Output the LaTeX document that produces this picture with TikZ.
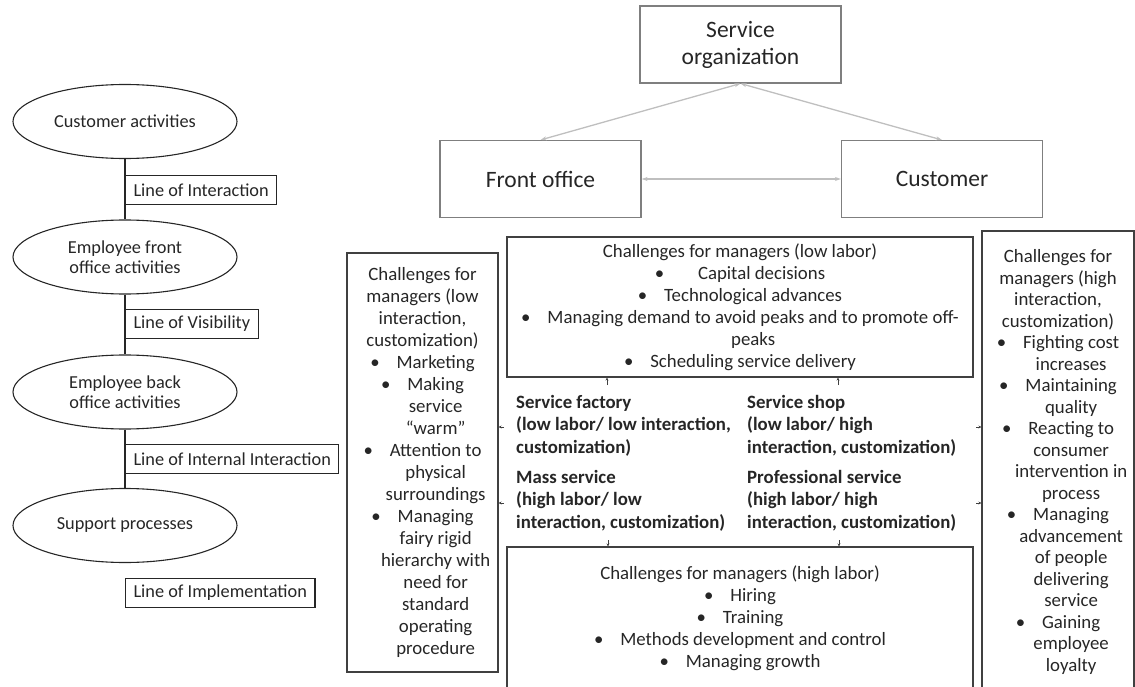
\documentclass[tikz,border=0pt]{standalone}
\usepackage{fontspec}
\setmainfont{Carlito}
\usetikzlibrary{arrows.meta, positioning, shapes.geometric}
\definecolor{c1}{HTML}{262626}
\definecolor{c2}{HTML}{404040}
\definecolor{c3}{HTML}{7F7F7F}
\definecolor{c4}{HTML}{BFBFBF}
\newcommand{\bul}{\textbullet\hspace{0.9em}}
\newcommand{\hang}{\hphantom{\textbullet\hspace{0.9em}}}

\begin{document}
\begin{tikzpicture}[x=1pt, y=-1pt,
    every node/.style={text=c1},
    oval/.style={ellipse, draw=c1, line width=1.1pt, minimum width=224pt,
                 minimum height=74pt, align=center, inner sep=0pt,
                 font=\fontsize{18.3}{20.5}\selectfont},
    tagbox/.style={rectangle, draw=c1, line width=1.1pt, minimum height=29pt,
                   inner xsep=8pt, anchor=north west,
                   font=\fontsize{18.3}{20.5}\selectfont},
    partbox/.style={rectangle, draw=c3, line width=1.1pt, minimum width=201pt,
                    minimum height=77pt, align=center,
                    font=\fontsize{23.5}{27}\selectfont},
    both/.style={{Stealth[length=6pt, width=4pt]}-{Stealth[length=6pt, width=4pt]},
                 draw=c4, line width=1.3pt},
    chal/.style={rectangle, draw=c2, line width=1.1pt, align=center, inner sep=0pt,
                 font=\fontsize{18.8}{22}\selectfont},
    quad/.style={anchor=west, align=left, inner sep=0pt,
                 font=\fontsize{18.8}{22.5}\selectfont\bfseries},
    tip/.style={-{Stealth[length=3pt, width=3pt]}, draw=c2, line width=0.7pt},
    link/.style={draw=c1, line width=1.1pt},
]
\clip (0,0) rectangle (1135,687);

% ================================================================ left: blueprint lines
\node[oval] (ca) at (125,121.5) {Customer activities};
\node[oval] (ef) at (125,257) {Employee front\\office activities};
\node[oval] (eb) at (125,392) {Employee back\\office activities};
\node[oval] (sp) at (125,525.5) {Support processes};

\draw[link] (ca) -- (ef);
\draw[link] (ef) -- (eb);
\draw[link] (eb) -- (sp);

\node[tagbox] (li) at (125,175) {Line of Interaction};
\node[tagbox] (lv) at (125,309) {Line of Visibility};
\node[tagbox] (lii) at (125,444) {Line of Internal Interaction};
\node[tagbox] (lim) at (125,578) {Line of Implementation};

% ================================================================ top: the triangle
\node[partbox] (so) at (740.5,44.5) {Service\\organization};
\node[partbox] (fo) at (540.5,179) {Front office};
\node[partbox] (cu) at (942,179) {Customer};

\draw[both] (so.south) -- (fo.north);
\draw[both] (so.south) -- (cu.north);
\draw[both] (fo.east) -- (cu.west);

% ================================================================ middle: service process matrix
\node[chal, minimum width=151pt, minimum height=419pt] (lb) at (422.5,462.5)
    {Challenges for\\managers (low\\interaction,\\customization)\\
     \bul Marketing\\\bul Making\\\hang service\\\hang “warm”\\
     \bul Attention to\\\hang physical\\\hang surroundings\\
     \bul Managing\\\hang fairy rigid\\\hang hierarchy with\\\hang need for\\
     \hang standard\\\hang operating\\\hang procedure};

\node[chal, minimum width=466pt, minimum height=140pt] (tb) at (740,307)
    {Challenges for managers (low labor)\\
     \textbullet\hspace{1.8em}Capital decisions\\
     \bul Technological advances\\
     \bul Managing demand to avoid peaks and to promote off-\\
     \hang peaks\\
     \bul Scheduling service delivery};

\node[chal, minimum width=152pt, minimum height=462pt,
      font=\fontsize{18.8}{21.5}\selectfont] (rb) at (1058,462)
    {Challenges for\\managers (high\\interaction,\\customization)\\
     \bul Fighting cost\\\hang increases\\\bul Maintaining\\\hang quality\\
     \bul Reacting to\\\hang consumer\\\hang intervention in\\\hang process\\
     \bul Managing\\\hang advancement\\\hang of people\\\hang delivering\\
     \hang service\\\bul Gaining\\\hang employee\\\hang loyalty};

\node[chal, minimum width=466pt, minimum height=143pt] (bb) at (740,618.5)
    {Challenges for managers (high labor)\\
     \bul Hiring\\\bul Training\\
     \bul Methods development and control\\
     \bul Managing growth};

\node[quad] (sf) at (516,425.5) {Service factory\\(low labor/ low interaction,\\customization)};
\node[quad] (ss) at (747,425.5) {Service shop\\(low labor/ high\\interaction, customization)};
\node[quad] (ms) at (516,500.5) {Mass service\\(high labor/ low\\interaction, customization)};
\node[quad] (ps) at (747,500.5) {Professional service\\(high labor/ high\\interaction, customization)};

% small pointers from each quadrant to its challenges
\coordinate (sfu) at (607,385);
\coordinate (ssu) at (838,385);
\coordinate (sfl) at (504,427);
\coordinate (msl) at (504,503);
\coordinate (ssr) at (976,427);
\coordinate (psr) at (976,503);
\coordinate (msd) at (608,540);
\coordinate (psd) at (839,540);

\draw[tip] (sfu) -- (sfu |- tb.south);
\draw[tip] (ssu) -- (ssu |- tb.south);
\draw[tip] (sfl) -- (sfl -| lb.east);
\draw[tip] (msl) -- (msl -| lb.east);
\draw[tip] (ssr) -- (ssr -| rb.west);
\draw[tip] (psr) -- (psr -| rb.west);
\draw[tip] (msd) -- (msd |- bb.north);
\draw[tip] (psd) -- (psd |- bb.north);

\end{tikzpicture}
\end{document}
